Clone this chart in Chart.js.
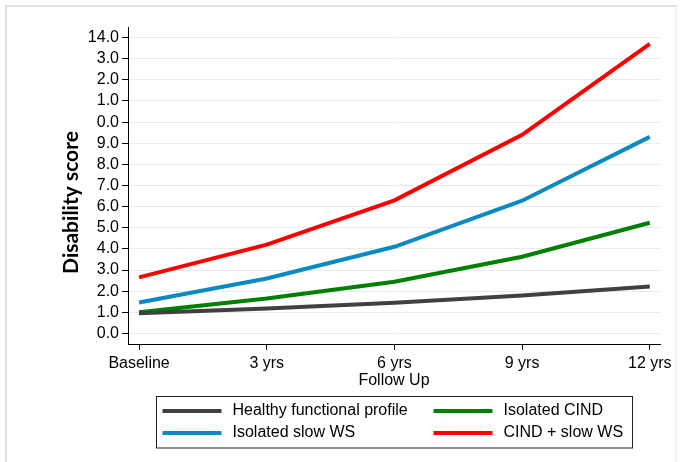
<!DOCTYPE html>
<html>
<head>
<meta charset="utf-8">
<script src="https://cdn.jsdelivr.net/npm/chart.js@4.4.0/dist/chart.umd.min.js"></script>
<style>
  html, body { margin: 0; padding: 0; background: #fff; }
  #wrap { position: relative; width: 697px; height: 462px; overflow: hidden; }
  #frame { position: absolute; left: 5px; top: 5px; width: 668px; height: 470px;
           border: 2px solid #e2e2e2; border-right-color: #f3f3f3; }
  #chart { position: absolute; left: 0; top: 0; }
</style>
</head>
<body>
<div id="wrap">
  <div id="frame"></div>
  <canvas id="chart" width="697" height="462"></canvas>
</div>
<script>
// Data
const timePoints = [0, 3, 6, 9, 12];
const timeLabels = ['Baseline', '3 yrs', '6 yrs', '9 yrs', '12 yrs'];
const yTicks = [0, 1, 2, 3, 4, 5, 6, 7, 8, 9, 10, 11, 12, 13, 14];
// tick labels as printed (the two-digit ones are clipped in the original)
const yTickLabels = ['0.0', '1.0', '2.0', '3.0', '4.0', '5.0', '6.0', '7.0', '8.0', '9.0',
                     '0.0', '1.0', '2.0', '3.0', '14.0'];
const seriesNames = ['Healthy functional profile', 'Isolated CIND', 'Isolated slow WS', 'CIND + slow WS'];
const healthy    = [0.95, 1.18, 1.45, 1.80, 2.22];
const cind       = [1.00, 1.65, 2.45, 3.63, 5.24];
const slowWs     = [1.46, 2.60, 4.10, 6.28, 9.30];
const cindSlowWs = [2.65, 4.20, 6.30, 9.40, 13.70];
const colors = ['#404040', '#008000', '#0a8ac2', '#ff0000'];

const tickFont = { family: '"Liberation Sans", Arial, sans-serif', size: 16 };

function toPoints(vals) {
  return timePoints.map((t, i) => ({ x: t, y: vals[i] }));
}

const datasets = [healthy, cind, slowWs, cindSlowWs].map((vals, i) => ({
  label: seriesNames[i],
  data: toPoints(vals),
  borderColor: colors[i],
  backgroundColor: colors[i],
  borderWidth: 4,
  pointRadius: 0,
  tension: 0,
  fill: false
}));

// y axis title + boxed two-column legend
const extras = {
  id: 'extras',
  afterDraw(chart) {
    const ctx = chart.ctx;
    const area = chart.chartArea;
    ctx.save();

    // y title
    ctx.translate(71, (area.top + area.bottom) / 2 + 17);
    ctx.rotate(-Math.PI / 2);
    ctx.font = 'bold 21px Lato, "Open Sans", sans-serif';
    ctx.fillStyle = '#000';
    ctx.textAlign = 'center';
    ctx.textBaseline = 'middle';
    ctx.fillText('Disability score', 0, 0);
    ctx.restore();

    // legend
    ctx.save();
    const cx = (area.left + area.right) / 2;
    const boxW = 476, boxTop = 396.5, boxH = 51.5;
    const left = Math.round(cx - boxW / 2) + 0.5;
    ctx.strokeStyle = '#222';
    ctx.lineWidth = 1;
    ctx.strokeRect(left, boxTop, boxW, boxH);
    ctx.font = '16px "Liberation Sans", Arial, sans-serif';
    ctx.textBaseline = 'middle';
    ctx.textAlign = 'left';
    const cols = [6, 277];
    const rows = [411, 433];
    chart.data.datasets.forEach((ds, i) => {
      const x = left + cols[i % 2];
      const y = rows[Math.floor(i / 2)];
      ctx.strokeStyle = ds.borderColor;
      ctx.lineWidth = 4;
      ctx.beginPath();
      ctx.moveTo(x, y);
      ctx.lineTo(x + 59, y);
      ctx.stroke();
      ctx.fillStyle = '#000';
      ctx.fillText(ds.label, x + 70, y);
    });
    ctx.restore();
  }
};

new Chart(document.getElementById('chart'), {
  type: 'line',
  data: { datasets: datasets },
  options: {
    responsive: false,
    animation: false,
    layout: { padding: { top: 27, right: 37, bottom: 70, left: 0 } },
    plugins: {
      legend: { display: false },
      tooltip: { enabled: false }
    },
    scales: {
      x: {
        type: 'linear',
        min: -0.26,
        max: 12.24,
        afterBuildTicks: s => { s.ticks = timePoints.map(v => ({ value: v })); },
        afterFit: s => { s.height = 48; },
        ticks: {
          font: tickFont,
          color: '#000',
          padding: 4,
          maxRotation: 0,
          callback: v => timeLabels[timePoints.indexOf(v)] ?? ''
        },
        grid: { drawOnChartArea: false, tickColor: '#000', tickLength: 6 },
        border: { color: '#000', width: 1 },
        title: {
          display: true,
          text: 'Follow Up',
          font: tickFont,
          color: '#000',
          padding: { top: 0, bottom: 2 }
        }
      },
      y: {
        min: -0.5,
        max: 14.5,
        afterBuildTicks: s => { s.ticks = yTicks.map(v => ({ value: v })); },
        afterFit: s => { s.width = 128; },
        ticks: {
          font: tickFont,
          color: '#000',
          padding: 3,
          callback: v => yTickLabels[yTicks.indexOf(v)] ?? ''
        },
        grid: { color: '#e4ecf0', lineWidth: 1, tickColor: '#000', tickLength: 6 },
        border: { color: '#000', width: 1 }
      }
    }
  },
  plugins: [extras]
});
</script>
</body>
</html>
